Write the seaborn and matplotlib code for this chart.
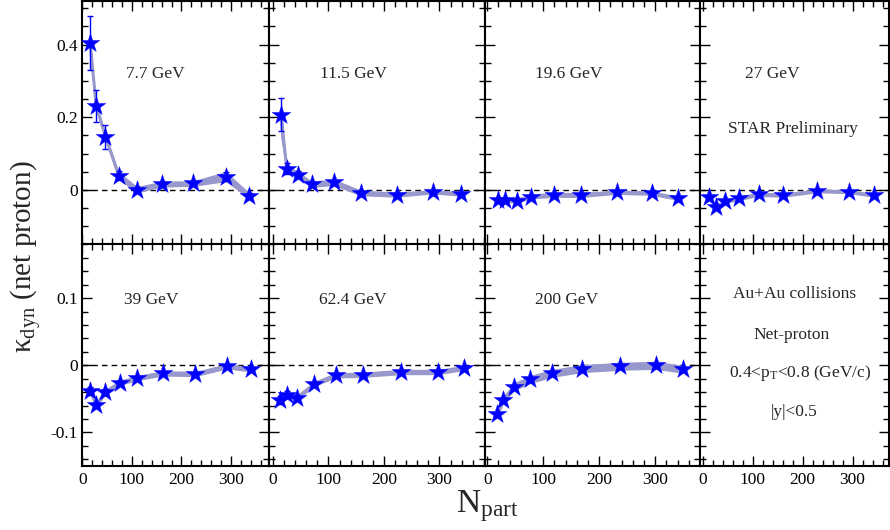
import numpy as np
import pandas as pd
import seaborn as sns
import matplotlib.pyplot as plt
from matplotlib.ticker import MultipleLocator, FuncFormatter

# panel labels, in drawing order (top row then bottom row)
energies = ['7.7 GeV', '11.5 GeV', '19.6 GeV', '27 GeV', '39 GeV', '62.4 GeV', '200 GeV']

npart = [
    [15.6, 27.7, 46.5, 73.5, 110, 160, 224, 290, 337],
    [13.9, 25.2, 45, 70, 110, 158, 224, 288, 338],
    [19.6, 31.6, 52.5, 79, 119, 167, 232, 294, 341],
    [13, 27, 45.4, 73, 112, 161, 229, 292, 342],
    [15.6, 27.7, 46, 75, 111, 162, 228, 292, 341],
    [13.3, 26, 44, 74, 113, 162, 231, 297, 344],
    [16.8, 28.6, 48, 77, 116, 168.6, 237, 301, 350],
]
kdyn = [
    [0.405, 0.232, 0.147, 0.039, 0.001, 0.016, 0.018, 0.037, -0.016],
    [0.207, 0.058, 0.042, 0.016, 0.021, -0.008, -0.013, -0.005, -0.011],
    [-0.028, -0.027, -0.029, -0.018, -0.013, -0.014, -0.006, -0.009, -0.023],
    [-0.019, -0.048, -0.031, -0.023, -0.012, -0.014, -0.003, -0.005, -0.015],
    [-0.038, -0.059, -0.040, -0.026, -0.019, -0.012, -0.013, -0.0015, -0.006],
    [-0.052, -0.044, -0.048, -0.028, -0.015, -0.014, -0.010, -0.010, -0.004],
    [-0.073, -0.052, -0.032, -0.021, -0.012, -0.005, -0.0015, 0.0, -0.006],
]
stat = [
    [0.074, 0.044, 0.033, 0.012, 0.008, 0.006, 0.005, 0.012, 0.008],
    [0.046, 0.015, 0.010, 0.006, 0.005, 0.004, 0.003, 0.003, 0.003],
    [0.006, 0.005, 0.004, 0.003, 0.002, 0.002, 0.002, 0.002, 0.002],
    [0.006, 0.005, 0.004, 0.003, 0.002, 0.002, 0.002, 0.002, 0.002],
    [0.006, 0.005, 0.004, 0.003, 0.002, 0.002, 0.002, 0.002, 0.002],
    [0.006, 0.005, 0.004, 0.003, 0.002, 0.002, 0.002, 0.002, 0.002],
    [0.004, 0.003, 0.003, 0.002, 0.002, 0.002, 0.001, 0.001, 0.001],
]
sys_err = [
    [0.011, 0.011, 0.011, 0.011, 0.009, 0.008, 0.008, 0.014, 0.009],
    [0.060, 0.011, 0.009, 0.009, 0.009, 0.008, 0.007, 0.006, 0.006],
    [0.007, 0.007, 0.007, 0.007, 0.007, 0.007, 0.006, 0.006, 0.006],
    [0.006, 0.006, 0.006, 0.006, 0.006, 0.006, 0.005, 0.005, 0.005],
    [0.005, 0.005, 0.004, 0.004, 0.004, 0.004, 0.004, 0.004, 0.004],
    [0.005, 0.005, 0.004, 0.004, 0.004, 0.004, 0.004, 0.004, 0.004],
    [0.006, 0.006, 0.006, 0.006, 0.006, 0.006, 0.006, 0.006, 0.006],
]

info_text = ['Au+Au collisions', 'Net-proton', '0.4<p$_{\\rm T}$<0.8 (GeV/c)', '|y|<0.5']

sns.set_theme(style='ticks')
plt.rcParams['font.family'] = ['Liberation Serif', 'DejaVu Serif']
plt.rcParams['mathtext.fontset'] = 'custom'
plt.rcParams['mathtext.rm'] = 'Liberation Serif'
plt.rcParams['mathtext.it'] = 'Liberation Serif:italic'
plt.rcParams['axes.unicode_minus'] = False

fig = plt.figure(figsize=(8.9, 5.3), dpi=100)
gs = fig.add_gridspec(2, 4, width_ratios=[187, 216, 215, 189], height_ratios=[244, 222],
                      left=0.0921, right=0.9989, top=0.998, bottom=0.1208,
                      wspace=0, hspace=0)

xlims = [(-1, 377), (-7, 382), (-4, 380), (-5, 373)]
ylims = [(-0.15, 0.52), (-0.15, 0.18)]

fmt = FuncFormatter(lambda v, p: '%g' % round(v, 3))

axes = []
for r in range(2):
    for c in range(4):
        ax = fig.add_subplot(gs[r, c])
        ax.set_xlim(*xlims[c])
        ax.set_ylim(*ylims[r])
        ax.xaxis.set_major_locator(MultipleLocator(100))
        ax.xaxis.set_minor_locator(MultipleLocator(20))
        if r == 0:
            ax.yaxis.set_major_locator(MultipleLocator(0.2))
            ax.yaxis.set_minor_locator(MultipleLocator(0.05))
        else:
            ax.yaxis.set_major_locator(MultipleLocator(0.1))
            ax.yaxis.set_minor_locator(MultipleLocator(0.02))
        ax.xaxis.set_major_formatter(fmt)
        ax.yaxis.set_major_formatter(fmt)
        ax.tick_params(which='both', direction='in', top=True, right=True,
                       labelleft=(c == 0), labelbottom=(r == 1),
                       colors='black', width=1.0)
        ax.tick_params(which='major', length=7.5)
        ax.tick_params(which='minor', length=4)
        ax.tick_params(axis='y', labelsize=12.5, pad=3)
        ax.tick_params(axis='x', labelsize=12.5, pad=4)
        for sp in ax.spines.values():
            sp.set_linewidth(1.5)
            sp.set_color('black')
        axes.append(ax)

for i, label in enumerate(energies):
    ax = axes[i]
    df = pd.DataFrame({'npart': npart[i], 'kdyn': kdyn[i],
                       'stat': stat[i], 'sys': sys_err[i]})
    ax.axhline(0, color='black', lw=1, ls=(0, (4, 3)), zorder=1)
    ax.fill_between(df['npart'], df['kdyn'] - df['sys'], df['kdyn'] + df['sys'],
                    color='#9898cc', lw=0, zorder=2)
    ax.plot(df['npart'], df['kdyn'], color='#9898cc', lw=2.2, zorder=2,
            solid_capstyle='round')
    ax.errorbar(df['npart'], df['kdyn'], yerr=df['stat'], fmt='none',
                ecolor='#0000ff', elinewidth=1, capsize=2, capthick=1, zorder=3)
    sns.scatterplot(data=df, x='npart', y='kdyn', ax=ax, marker='*', s=200,
                    color='#0000ff', edgecolor='#0000ff', linewidth=0.3, zorder=4)
    ax.set_xlabel('')
    ax.set_ylabel('')
    ty = 0.70 if i < 4 else 0.75
    tx = [0.39, 0.39, 0.39, 0.38, 0.37, 0.39, 0.38][i]
    ax.text(tx, ty, label, transform=ax.transAxes, ha='center', va='center',
            fontsize=12.5)

axes[3].text(0.49, 0.474, 'STAR Preliminary', transform=axes[3].transAxes,
             ha='center', va='center', fontsize=12.5)

for (tx, ty), t in zip([(0.50, 0.778), (0.485, 0.59), (0.53, 0.42), (0.50, 0.245)], info_text):
    axes[7].text(tx, ty, t, transform=axes[7].transAxes, ha='center', va='center',
                 fontsize=12.5)

fig.text(0.030, 0.515, 'κ$_{\\rm dyn}$ (net proton)', rotation=90, ha='center',
         va='center', fontsize=21)
fig.text(0.547, 0.045, 'N$_{\\rm part}$', ha='center', va='center', fontsize=24)

fig.savefig('out.png', dpi=100)
